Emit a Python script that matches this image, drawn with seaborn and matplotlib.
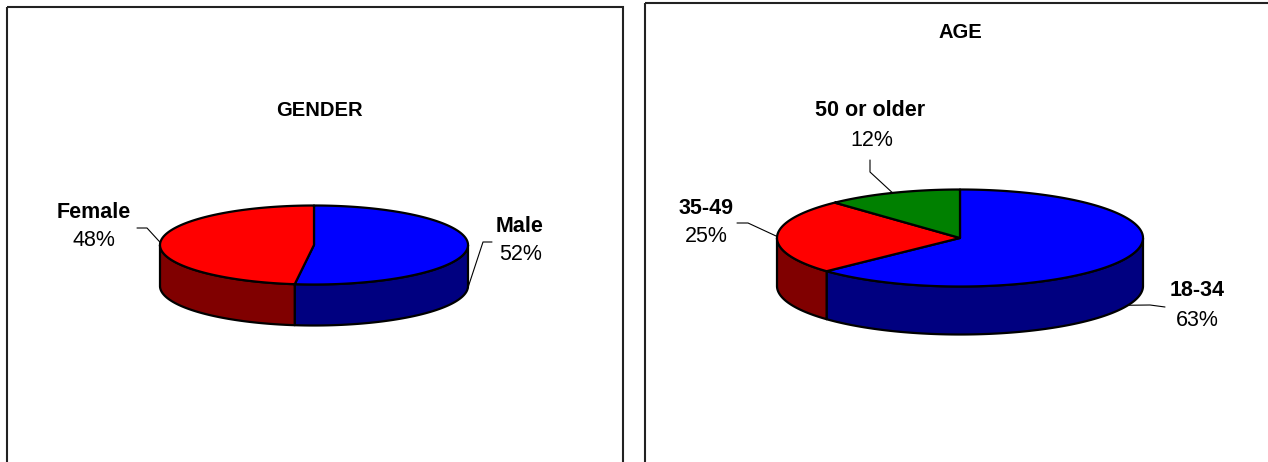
import numpy as np
import matplotlib
matplotlib.use("Agg")
import matplotlib.pyplot as plt
from matplotlib.colors import to_rgb
from matplotlib.patches import Polygon, Rectangle
import seaborn as sns

# ---- data -------------------------------------------------------------
gender_labels = ["Male", "Female"]
gender_values = [52, 48]
gender_colors = ["#0000FF", "#FF0000"]

age_labels = ["18-34", "35-49", "50 or older"]
age_values = [63, 25, 12]
age_colors = ["#0000FF", "#FF0000", "#008000"]

# ---- style ------------------------------------------------------------
sns.set_theme(style="white")
plt.rcParams["font.family"] = ["Liberation Sans", "DejaVu Sans"]

W, H = 1268, 462
fig = plt.figure(figsize=(W / 100, H / 100), dpi=100)
ax = fig.add_axes([0, 0, 1, 1])
ax.set_xlim(0, W)
ax.set_ylim(H, 0)
ax.axis("off")

LABEL_SIZE = 15.5
TITLE_SIZE = 14.5


def shade(color, k=0.5):
    return tuple(c * k for c in to_rgb(color))


def ellipse_pts(cx, cy, a, b, theta_deg, dy=0.0):
    t = np.radians(theta_deg)
    return np.column_stack([cx + a * np.cos(t), cy - b * np.sin(t) + dy])


def pie3d(ax, labels, values, colors, cx, cy, a, b, depth, layout):
    frac = np.asarray(values, float) / np.sum(values)
    bounds = 90 - 360 * np.concatenate([[0], np.cumsum(frac)])
    edge = dict(edgecolor="black", linewidth=1.6, joinstyle="round")

    # front walls of the cylinder
    for i, col in enumerate(colors):
        th = np.linspace(bounds[i + 1], bounds[i], 500)
        front = np.sin(np.radians(th)) <= 1e-9
        if not front.any():
            continue
        idx = np.flatnonzero(front)
        runs = np.split(idx, np.flatnonzero(np.diff(idx) > 1) + 1)
        for r in runs:
            seg = th[r]
            top = ellipse_pts(cx, cy, a, b, seg)
            bot = ellipse_pts(cx, cy, a, b, seg[::-1], dy=depth)
            ax.add_patch(Polygon(np.vstack([top, bot]), closed=True,
                                 facecolor=shade(col), zorder=2, **edge))

    # top faces
    for i, col in enumerate(colors):
        th = np.linspace(bounds[i], bounds[i + 1], 400)
        pts = np.vstack([[cx, cy], ellipse_pts(cx, cy, a, b, th)])
        ax.add_patch(Polygon(pts, closed=True, facecolor=col, zorder=3, **edge))

    # labels with leader lines
    for i, lab in enumerate(labels):
        mid = (bounds[i] + bounds[i + 1]) / 2
        on_front = np.sin(np.radians(mid)) < 0
        anchor = ellipse_pts(cx, cy, a, b, [mid], dy=depth if on_front else 0.0)[0]
        lay = layout[lab]
        path = np.vstack([lay["leader"], anchor])
        ax.plot(path[:, 0], path[:, 1], color="black", lw=0.8, zorder=4)
        ax.text(*lay["text"], lab, ha="center", va="center",
                fontsize=LABEL_SIZE, fontweight="bold", color="black", zorder=5)
        ax.text(*lay["pct"], f"{values[i]}%", ha="center", va="center",
                fontsize=LABEL_SIZE, color="black", zorder=5)


# ---- panel frames -----------------------------------------------------
ax.add_patch(Rectangle((7, 7), 616, 520, fill=False, edgecolor="#222222",
                       linewidth=1.5, zorder=1))
ax.add_patch(Rectangle((645, 3), 660, 520, fill=False, edgecolor="#222222",
                       linewidth=1.5, zorder=1))

# ---- gender panel -----------------------------------------------------
ax.text(319, 111, "GENDER", ha="center", va="center",
        fontsize=TITLE_SIZE, fontweight="bold", color="black")
gender_layout = {
    "Male": dict(text=(520, 226), pct=(521, 255), leader=[(492, 242), (483, 242)]),
    "Female": dict(text=(94, 212), pct=(94, 240), leader=[(137, 228), (147, 228)]),
}
pie3d(ax, gender_labels, gender_values, gender_colors,
      cx=314, cy=245, a=154, b=39.5, depth=41, layout=gender_layout)

# ---- age panel --------------------------------------------------------
ax.text(960, 32, "AGE", ha="center", va="center",
        fontsize=TITLE_SIZE, fontweight="bold", color="black")
age_layout = {
    "18-34": dict(text=(1197, 291), pct=(1197, 321), leader=[(1165, 307), (1150, 305)]),
    "35-49": dict(text=(706, 208), pct=(706, 237), leader=[(737, 223), (748, 223)]),
    "50 or older": dict(text=(870, 110), pct=(872, 140), leader=[(870, 160), (870, 172)]),
}
pie3d(ax, age_labels, age_values, age_colors,
      cx=960, cy=238, a=183, b=48.5, depth=48, layout=age_layout)

fig.savefig("out.png", dpi=100, facecolor="white")
